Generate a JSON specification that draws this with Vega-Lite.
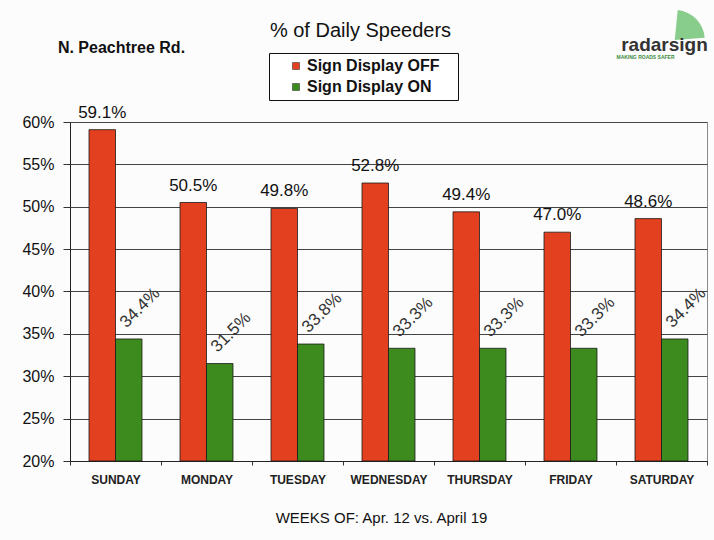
{
  "$schema": "https://vega.github.io/schema/vega-lite/v6.json",
  "width": 637,
  "height": 339,
  "autosize": {"type": "none"},
  "padding": {"left": 70, "top": 122, "right": 7, "bottom": 79},
  "background": "#fcfcfc",
  "title": {
    "text": "% of Daily Speeders",
    "anchor": "middle",
    "frame": "group",
    "dx": -28,
    "offset": -31,
    "fontSize": 20,
    "fontWeight": "normal",
    "font": "Liberation Sans",
    "color": "#111111"
  },
  "config": {
    "view": {"stroke": "#8a8a8a", "strokeWidth": 1},
    "font": "Liberation Sans"
  },
  "datasets": {
    "speeders": [
      {"day": "SUNDAY", "sign": "Sign Display OFF", "value": 0.591},
      {"day": "SUNDAY", "sign": "Sign Display ON", "value": 0.344},
      {"day": "MONDAY", "sign": "Sign Display OFF", "value": 0.505},
      {"day": "MONDAY", "sign": "Sign Display ON", "value": 0.315},
      {"day": "TUESDAY", "sign": "Sign Display OFF", "value": 0.498},
      {"day": "TUESDAY", "sign": "Sign Display ON", "value": 0.338},
      {"day": "WEDNESDAY", "sign": "Sign Display OFF", "value": 0.528},
      {"day": "WEDNESDAY", "sign": "Sign Display ON", "value": 0.333},
      {"day": "THURSDAY", "sign": "Sign Display OFF", "value": 0.494},
      {"day": "THURSDAY", "sign": "Sign Display ON", "value": 0.333},
      {"day": "FRIDAY", "sign": "Sign Display OFF", "value": 0.470},
      {"day": "FRIDAY", "sign": "Sign Display ON", "value": 0.333},
      {"day": "SATURDAY", "sign": "Sign Display OFF", "value": 0.486},
      {"day": "SATURDAY", "sign": "Sign Display ON", "value": 0.344}
    ]
  },
  "layer": [
    {
      "data": {"name": "speeders"},
      "mark": {"type": "bar", "stroke": "#1a1a1a", "strokeWidth": 0.8},
      "encoding": {
        "x": {
          "field": "day",
          "type": "nominal",
          "sort": ["SUNDAY", "MONDAY", "TUESDAY", "WEDNESDAY", "THURSDAY", "FRIDAY", "SATURDAY"],
          "scale": {"paddingInner": 0, "paddingOuter": 0},
          "axis": {
            "title": "WEEKS OF: Apr. 12 vs. April 19",
            "titleX": 311,
            "titleY": 56,
            "titleAlign": "center",
            "titleBaseline": "middle",
            "titleFontSize": 15,
            "titleFontWeight": "normal",
            "titleColor": "#111111",
            "labelAngle": 0,
            "labelFontSize": 12,
            "labelFontWeight": "bold",
            "labelColor": "#222222",
            "labelPadding": 9,
            "tickBand": "extent",
            "tickSize": 4,
            "tickColor": "#333333",
            "domainColor": "#222222",
            "grid": false
          }
        },
        "xOffset": {
          "field": "sign",
          "type": "nominal",
          "scale": {"paddingInner": 0, "paddingOuter": 0.717}
        },
        "y": {
          "field": "value",
          "type": "quantitative",
          "scale": {"domain": [0.2, 0.6], "nice": false, "zero": false},
          "axis": {
            "title": null,
            "values": [0.2, 0.25, 0.3, 0.35, 0.4, 0.45, 0.5, 0.55, 0.6],
            "format": ".0%",
            "labelFontSize": 16,
            "labelColor": "#111111",
            "labelPadding": 9,
            "tickSize": 7,
            "tickColor": "#333333",
            "domainColor": "#222222",
            "grid": true,
            "gridColor": "#444444",
            "gridWidth": 1
          }
        },
        "y2": {"datum": 0.2},
        "color": {
          "field": "sign",
          "type": "nominal",
          "scale": {"domain": ["Sign Display OFF", "Sign Display ON"], "range": ["#e2401e", "#3d8b1f"]},
          "legend": {
            "orient": "none",
            "legendX": 199,
            "legendY": -69,
            "title": " ",
            "titleOrient": "right",
            "titlePadding": 14,
            "strokeColor": "#111111",
            "fillColor": "#ffffff",
            "padding": 5,
            "rowPadding": 5,
            "symbolType": "square",
            "symbolSize": 49,
            "symbolStrokeColor": "#222222",
            "symbolStrokeWidth": 0.5,
            "symbolOffset": 14,
            "labelOffset": 3,
            "labelFont": "Liberation Sans",
            "labelFontSize": 16,
            "labelFontWeight": "bold",
            "labelColor": "#111111"
          }
        }
      }
    },
    {
      "data": {"name": "speeders"},
      "transform": [{"filter": "datum.sign === 'Sign Display OFF'"}],
      "mark": {"type": "text", "baseline": "bottom", "dy": -8, "fontSize": 17, "color": "#111111"},
      "encoding": {
        "x": {"field": "day", "type": "nominal", "sort": ["SUNDAY", "MONDAY", "TUESDAY", "WEDNESDAY", "THURSDAY", "FRIDAY", "SATURDAY"]},
        "xOffset": {"field": "sign", "type": "nominal"},
        "y": {"field": "value", "type": "quantitative"},
        "text": {"field": "value", "type": "quantitative", "format": ".1%"}
      }
    },
    {
      "data": {"name": "speeders"},
      "transform": [{"filter": "datum.sign === 'Sign Display ON'"}],
      "mark": {"type": "text", "align": "center", "baseline": "middle", "angle": -45, "dx": 30, "dy": -14, "fontSize": 17, "color": "#333333"},
      "encoding": {
        "x": {"field": "day", "type": "nominal", "sort": ["SUNDAY", "MONDAY", "TUESDAY", "WEDNESDAY", "THURSDAY", "FRIDAY", "SATURDAY"]},
        "xOffset": {"field": "sign", "type": "nominal"},
        "y": {"field": "value", "type": "quantitative"},
        "text": {"field": "value", "type": "quantitative", "format": ".1%"}
      }
    },
    {
      "data": {"values": [{"label": "N. Peachtree Rd."}]},
      "mark": {"type": "text", "align": "center", "baseline": "middle", "dx": 6, "fontSize": 16, "fontWeight": "bold", "color": "#111111"},
      "encoding": {
        "x": {"datum": "SUNDAY"},
        "y": {"datum": 0.687},
        "text": {"field": "label"}
      }
    },
    {
      "data": {"values": [{"label": "logo"}]},
      "mark": {"type": "arc", "theta": 0.1, "theta2": 1.5, "radius": 30, "radius2": 0, "fill": "#6cc070", "opacity": 0.8},
      "encoding": {
        "x": {"datum": "SATURDAY"},
        "xOffset": {"datum": "Sign Display ON"},
        "y": {"datum": 0.6968}
      }
    },
    {
      "data": {"values": [{"label": "radarsign"}]},
      "mark": {"type": "text", "align": "center", "baseline": "alphabetic", "dx": 3, "fontSize": 19, "fontWeight": "bold", "color": "#333333"},
      "encoding": {
        "x": {"datum": "SATURDAY"},
        "y": {"datum": 0.6838},
        "text": {"field": "label"}
      }
    },
    {
      "data": {"values": [{"label": "MAKING ROADS SAFER"}]},
      "mark": {"type": "text", "align": "center", "baseline": "middle", "dx": -16, "fontSize": 5, "fontWeight": "bold", "color": "#3d8b3d"},
      "encoding": {
        "x": {"datum": "SATURDAY"},
        "y": {"datum": 0.6767},
        "text": {"field": "label"}
      }
    }
  ]
}
